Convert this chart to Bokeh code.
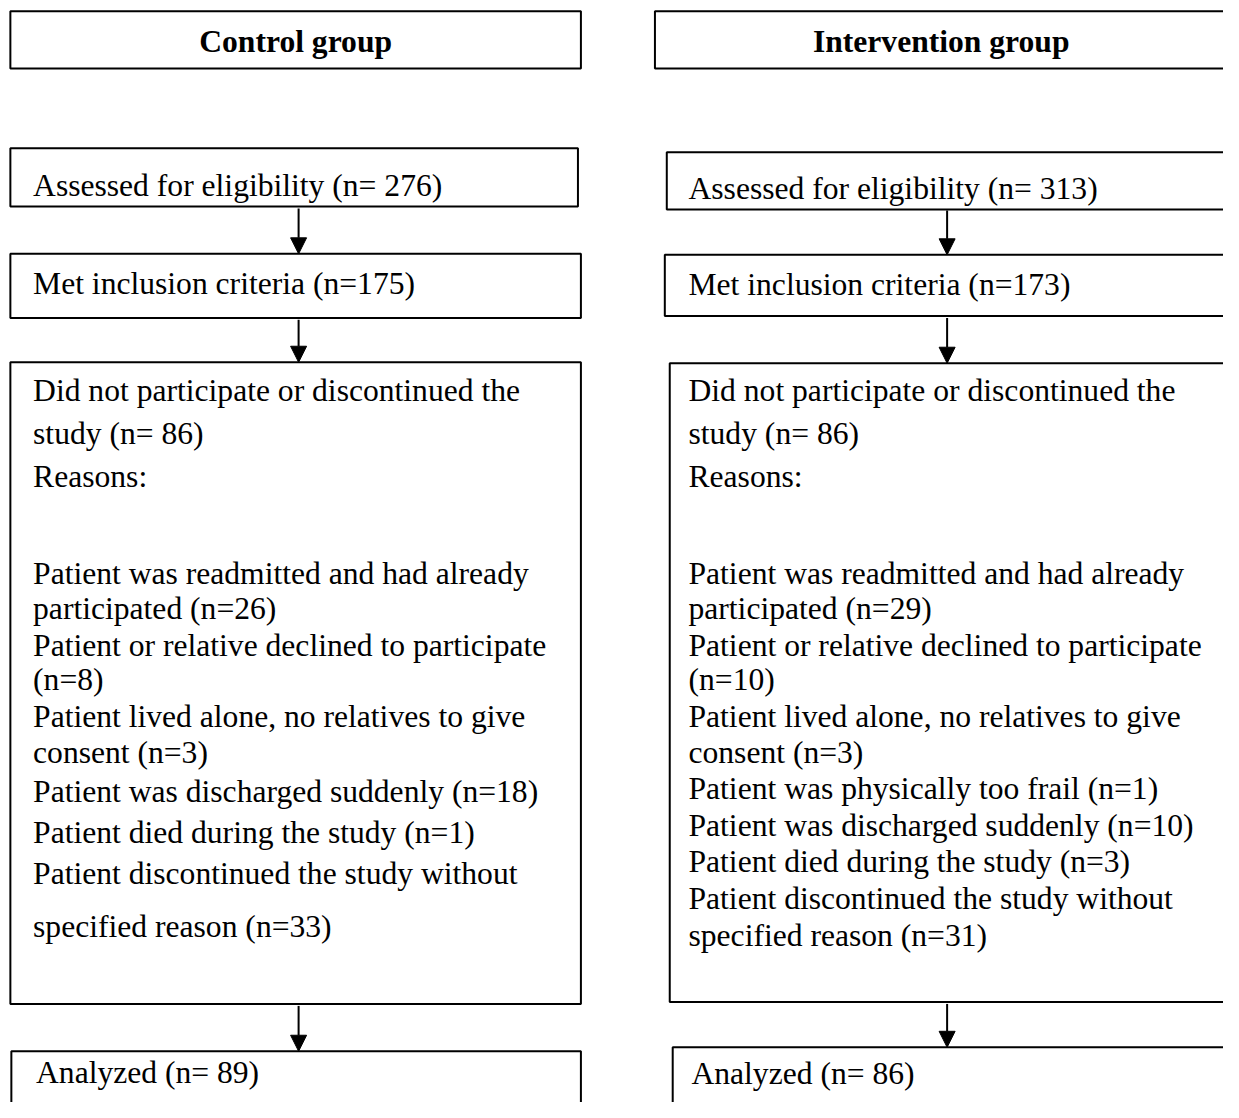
import textwrap
from bokeh.plotting import figure
from bokeh.models import Range1d, Arrow, NormalHead
from bokeh.core.properties import value
from bokeh.embed import file_html
from bokeh.resources import INLINE

# ---------------- data ----------------
groups = ["Control group", "Intervention group"]
assessed_n = [276, 313]
included_n = [175, 173]
excluded_n = [86, 86]
analyzed_n = [89, 86]

control_reason_labels = [
    "Patient was readmitted and had already participated",
    "Patient or relative declined to participate",
    "Patient lived alone, no relatives to give consent",
    "Patient was discharged suddenly",
    "Patient died during the study",
    "Patient discontinued the study without specified reason",
]
control_reason_n = [26, 8, 3, 18, 1, 33]

intervention_reason_labels = [
    "Patient was readmitted and had already participated",
    "Patient or relative declined to participate",
    "Patient lived alone, no relatives to give consent",
    "Patient was physically too frail",
    "Patient was discharged suddenly",
    "Patient died during the study",
    "Patient discontinued the study without specified reason",
]
intervention_reason_n = [29, 10, 3, 1, 10, 3, 31]

# ---------------- layout (pixel coordinates of the reference) ----------------
FONT = value("Liberation Serif")
FS = "31.6px"
LW = 2

col = [
    dict(  # control
        title_box=(10, 588, 11, 69), title_x=299, title_y=42,
        assessed_box=(10, 585, 150, 209), assessed_y=188,
        met_box=(10, 588, 257, 322), met_y=287,
        big_box=(10, 588, 367, 1018),
        head_y=[396, 439], reasons_hdr_y=483,
        reason_y=[581, 617, 654, 689, 726, 763, 802, 844, 886, 939],
        an_box=(11, 588, 1066, 1200), an_y=1088,
        text_x=33, arrow_x=302,
        arrows=[(211, 257), (324, 367), (1020, 1066)],
    ),
    dict(  # intervention
        title_box=(663, 1300, 11, 69), title_x=953, title_y=42,
        assessed_box=(675, 1300, 154, 212), assessed_y=191,
        met_box=(673, 1300, 258, 320), met_y=288,
        big_box=(678, 1300, 368, 1016),
        head_y=[396, 439], reasons_hdr_y=483,
        reason_y=[581, 617, 654, 689, 726, 763, 799, 837, 874, 911, 949],
        an_box=(681, 1300, 1062, 1200), an_y=1089,
        text_x=697, arrow_x=959,
        arrows=[(213, 258), (322, 368), (1018, 1062)],
    ),
]

reasons = [
    (control_reason_labels, control_reason_n),
    (intervention_reason_labels, intervention_reason_n),
]

p = figure(width=1223, height=1102,
           x_range=Range1d(0, 1239), y_range=Range1d(1118, 0),
           output_backend="svg", toolbar_location=None,
           x_axis_type=None, y_axis_type=None, min_border=0)
p.grid.visible = False
p.outline_line_color = None
p.background_fill_color = "white"
p.border_fill_color = "white"


def box(b):
    x0, x1, y0, y1 = b
    p.quad(left=x0, right=x1, top=y0, bottom=y1, fill_color=None,
           line_color="black", line_width=LW)


def txt(xs, ys, texts, **kw):
    p.text(x=xs, y=ys, text=texts, text_font=FONT, text_font_size=FS,
           text_color="black", text_baseline="alphabetic", **kw)


for i, c in enumerate(col):
    for key in ["title_box", "assessed_box", "met_box", "big_box", "an_box"]:
        box(c[key])
    txt([c["title_x"]], [c["title_y"]], [groups[i]], text_align="center",
        text_font_style="bold")
    tx = c["text_x"]
    txt([tx], [c["assessed_y"]], [f"Assessed for eligibility (n= {assessed_n[i]})"])
    txt([tx], [c["met_y"]], [f"Met inclusion criteria (n={included_n[i]})"])
    head_lines = textwrap.wrap(f"Did not participate or discontinued the study (n= {excluded_n[i]})", 43)
    txt([tx] * len(head_lines), c["head_y"][:len(head_lines)], head_lines)
    txt([tx], [c["reasons_hdr_y"]], ["Reasons:"])
    labels, ns = reasons[i]
    lines = []
    for lab, n in zip(labels, ns):
        lines += textwrap.wrap(f"{lab} (n={n})", 43)
    ys = c["reason_y"][:len(lines)]
    txt([tx] * len(ys), ys, lines[:len(ys)])
    txt([tx + 3], [c["an_y"]], [f"Analyzed (n= {analyzed_n[i]})"])
    for (y0, y1) in c["arrows"]:
        p.add_layout(Arrow(end=NormalHead(size=16, fill_color="black",
                                          line_color="black", line_width=1),
                           x_start=c["arrow_x"], y_start=y0,
                           x_end=c["arrow_x"], y_end=y1,
                           line_width=LW, line_color="black"))

open("out.html", "w").write(file_html(p, INLINE))
